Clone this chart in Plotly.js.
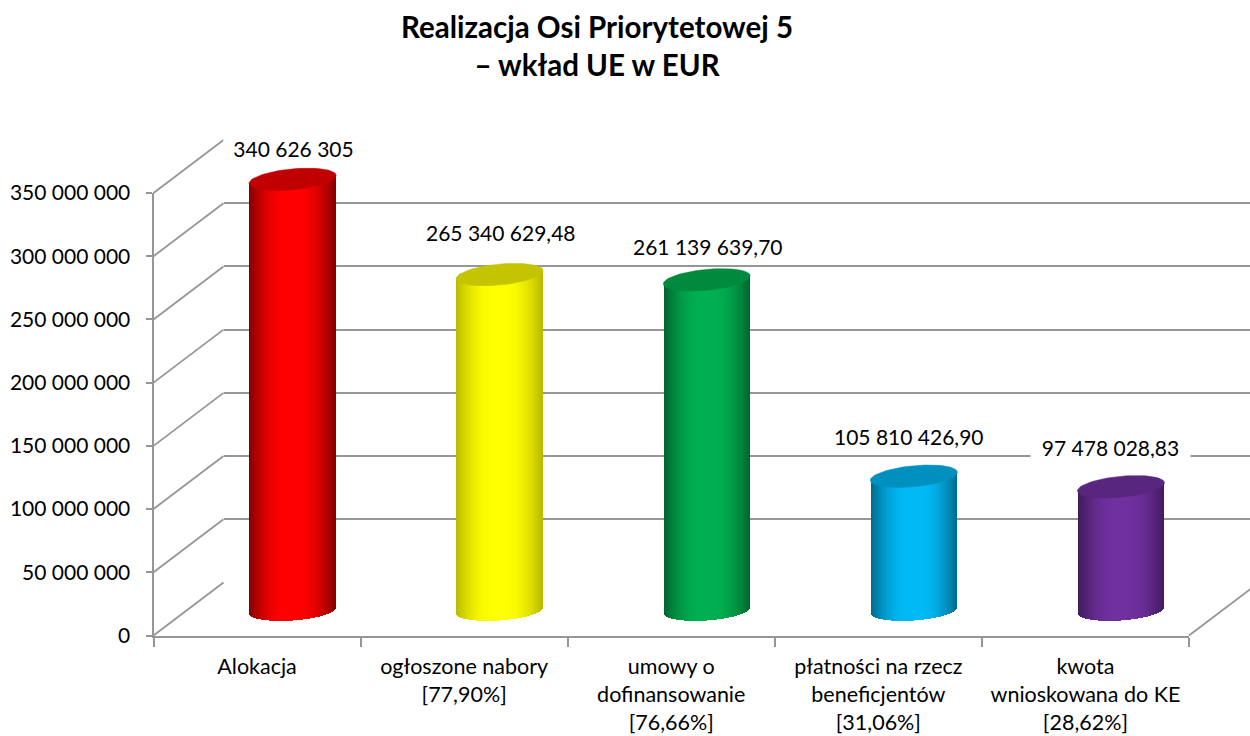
<!DOCTYPE html>
<html><head><meta charset="utf-8">
<script src="https://cdn.plot.ly/plotly-3.0.1.min.js"></script>
<style>html,body{margin:0;padding:0;background:#fff}</style>
</head><body><div id="chart" style="width:1250px;height:736px"></div>
<script>
const categories = ["Alokacja","ogłoszone nabory<br>[77,90%]","umowy o<br>dofinansowanie<br>[76,66%]","płatności na rzecz<br>beneficjentów<br>[31,06%]","kwota<br>wnioskowana do KE<br>[28,62%]"];
const values = [340626305,265340629.48,261139639.70,105810426.90,97478028.83];
const valueLabels = ["340 626 305","265 340 629,48","261 139 639,70","105 810 426,90","97 478 028,83"];
const sideColors = [[255,0,0],[255,255,0],[0,176,80],[0,186,245],[112,48,160]];
const edgeShade = [0.5,0.72,0.55,0.55,0.55];
const capColors = ["#c00000","#c4c400","#008a3e","#0090c0","#58267f"];
const labelDx = [1.5,2,2,-4,-9.5];
const labelDy = [-31,-42,-33,-40,-40];
const labelBox = [[137,22],null,null,null,[157,22]];
const yTicks = [0,50000000,100000000,150000000,200000000,250000000,300000000,350000000];
const yTickText = ["0","50 000 000","100 000 000","150 000 000","200 000 000","250 000 000","300 000 000","350 000 000"];
const boundaries = [0,1,2,3,4,5];
const titleText = "<b>Realizacja Osi Priorytetowej 5<br>– wkład UE w EUR</b>";

const W=1250,H=736, FONT='Lato, "Open Sans", sans-serif', GRAY='#969696';
const X0=153.5,X1=1189,Y0=635.5,Y350=193, DX=70, DY=53;
const YMAX=350000000, pxPerVal=(Y0-Y350)/YMAX, pxPerCat=(X1-X0)/5;
const px=v=>v/W, py=v=>1-v/H, val=p=>p/pxPerVal;

const BAR_Y0=610, BAR_DX=35.5, BAR_LOW=val(40);
const A=43.5, H_E=10.5, TOPS=4, BOTS=3;
const mids=categories.map((c,i)=>i+0.5);
const ghost=(xa,ya)=>({type:'scatter',mode:'markers',x:mids,y:values,xaxis:xa,yaxis:ya,marker:{opacity:0,size:1},hoverinfo:'skip',showlegend:false});
const traces=[ghost('x','y'),ghost('x2','y2')];
values.forEach((v,k)=>{
  const xs=[],bs=[],hs=[],cs=[];
  for(let i=0;i<86;i++){
    const off=-42.5+i, u=off/A, root=Math.sqrt(Math.max(0,1-u*u));
    const base=val(BOTS*u-H_E*root), top=v+val(TOPS*u);
    const t=Math.pow(Math.max(0,Math.abs(u)-0.12)/0.88,2.0);
    const f=1-(1-edgeShade[k])*t;
    xs.push(k+0.5+off/pxPerCat); bs.push(base); hs.push(top-base);
    cs.push('rgb('+sideColors[k].map(c=>Math.round(c*f)).join(',')+')');
  }
  traces.push({type:'bar',x:xs,y:hs,base:bs,width:1.5/pxPerCat,xaxis:'x3',yaxis:'y3',opacity:1,
    marker:{color:cs,opacity:1,line:{width:0}},hoverinfo:'skip',showlegend:false});
  const ex=[],ey=[];
  for(let d=0;d<=72;d++){
    const th=d*Math.PI/36, c=Math.cos(th), s=Math.sin(th);
    ex.push(k+0.5+A*c/pxPerCat); ey.push(v+val(TOPS*c+H_E*s));
  }
  traces.push({type:'scatter',mode:'lines',x:ex,y:ey,fill:'toself',fillcolor:capColors[k],
    line:{color:capColors[k],width:0.5},xaxis:'x3',yaxis:'y3',hoverinfo:'skip',showlegend:false});
});

const shapes=[];
const diag=(x,y)=>({type:'line',xref:'paper',yref:'paper',x0:px(x),y0:py(y),x1:px(x+DX),y1:py(y-DY),
  line:{color:GRAY,width:1.8},layer:'below'});
yTicks.forEach(t=>shapes.push(diag(X0,Y0-t*pxPerVal)));
shapes.push(diag(X1,Y0));

const annotations=values.map((v,k)=>{
  const a={xref:'x3',yref:'y3',x:k+0.5,y:v,xshift:labelDx[k]-0.5,yshift:-labelDy[k],text:valueLabels[k],showarrow:false,
    xanchor:'center',yanchor:'middle',font:{family:FONT,size:21,color:'#000'}};
  if(labelBox[k]){a.bgcolor='#fff';a.width=labelBox[k][0];a.height=labelBox[k][1];}
  return a;
});

const hidden={visible:true,showgrid:false,zeroline:false,showline:false,showticklabels:false,ticks:''};
const layout={
  width:W,height:H,margin:{l:0,r:0,t:0,b:0},autosize:false,
  paper_bgcolor:'#fff',plot_bgcolor:'rgba(0,0,0,0)',showlegend:false,barmode:'overlay',bargap:0,bargroupgap:0,
  font:{family:FONT,color:'#000'},
  title:{text:titleText,x:597/W,xanchor:'center',y:1-38/H,yanchor:'middle',font:{family:FONT,size:29.5,color:'#000'}},
  xaxis:{domain:[px(X0),px(X1)],range:[0,5],anchor:'y',tickmode:'array',tickvals:mids,ticktext:categories,
    ticks:'',showgrid:false,zeroline:false,showline:true,linecolor:GRAY,linewidth:2,ticklabelstandoff:11,
    tickfont:{family:FONT,size:21.5,color:'#000'},
    minor:{tickmode:'array',tickvals:boundaries,ticks:'outside',ticklen:9,tickwidth:2,tickcolor:GRAY,showgrid:false}},
  yaxis:{domain:[py(Y0),py(Y350)],range:[0,YMAX],anchor:'x',tickmode:'array',tickvals:yTicks,ticktext:yTickText,
    ticks:'outside',ticklen:6,tickwidth:2,tickcolor:GRAY,showgrid:false,zeroline:false,showline:true,linecolor:GRAY,linewidth:2,
    ticklabelstandoff:11,tickfont:{family:FONT,size:21,color:'#000'}},
  xaxis2:Object.assign({},hidden,{domain:[px(X0+DX),1],range:[0,5],anchor:'y2'}),
  yaxis2:{domain:[py(Y0-DY),py(Y350-DY)],range:[0,YMAX],anchor:'x2',tickmode:'array',tickvals:yTicks,
    showgrid:true,gridcolor:GRAY,gridwidth:2,zeroline:false,showline:false,showticklabels:false,ticks:''},
  xaxis3:Object.assign({},hidden,{domain:[px(X0+BAR_DX),px(X1+BAR_DX)],range:[0,5],anchor:'y3'}),
  yaxis3:Object.assign({},hidden,{domain:[py(BAR_Y0+40),py(BAR_Y0-(Y0-Y350))],range:[-BAR_LOW,YMAX],anchor:'x3'}),
  shapes:shapes,annotations:annotations
};
Plotly.newPlot('chart',traces,layout,{displayModeBar:false,staticPlot:true});
</script>
</body></html>
